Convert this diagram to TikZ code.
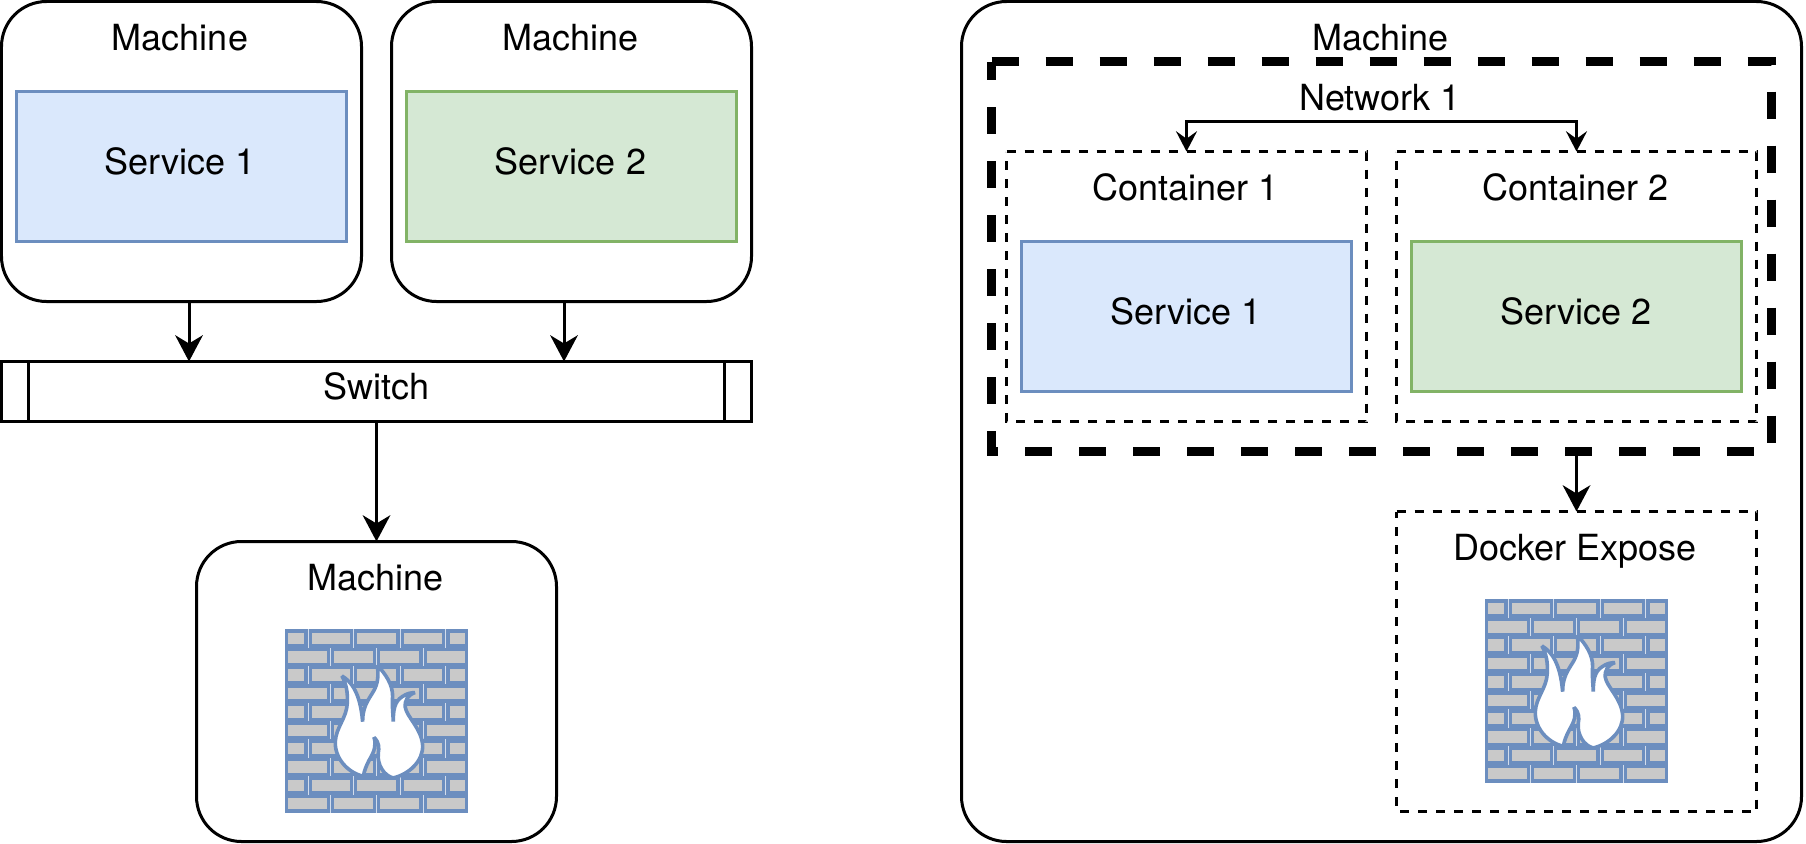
\documentclass[tikz,border=0pt]{standalone}
\usepackage{fontspec}
\setmainfont{TeX Gyre Heros}
\usetikzlibrary{arrows.meta}
\definecolor{svcblue}{HTML}{DAE8FC}
\definecolor{svcblueline}{HTML}{6C8EBF}
\definecolor{svcgreen}{HTML}{D5E8D4}
\definecolor{svcgreenline}{HTML}{82B366}
\definecolor{brickgray}{HTML}{C9C9C9}
\tikzset{
  shapebase/.style={rectangle,inner sep=0pt,outer sep=0pt,line width=2pt},
  machine/.style={shapebase,draw=black,rounded corners=30pt,minimum width=240pt,minimum height=200pt},
  bigmachine/.style={shapebase,draw=black,rounded corners=30pt,minimum width=560pt,minimum height=560pt},
  svcone/.style={shapebase,draw=svcblueline,fill=svcblue,minimum width=220pt,minimum height=100pt},
  svctwo/.style={shapebase,draw=svcgreenline,fill=svcgreen,minimum width=220pt,minimum height=100pt},
  switchbox/.style={shapebase,draw=black,minimum width=500pt,minimum height=40pt},
  regionbox/.style={shapebase,minimum width=240pt},
  dashline/.style={line width=2pt,dash pattern=on 6pt off 6pt},
  netline/.style={line width=6pt,dash pattern=on 18pt off 18pt},
  label/.style={inner sep=0pt,outer sep=0pt,anchor=base,font=\fontsize{24pt}{28pt}\selectfont},
  arr/.style={line width=2pt,-{Stealth[length=17.5pt,width=18.4pt,inset=5.5pt]}},
  arrsmall/.style={line width=2pt,{Stealth[length=13.5pt,width=14pt,inset=5pt]}-{Stealth[length=13.5pt,width=14pt,inset=5pt]}},
  firewall/.pic={
    \fill[svcblueline] (0,0) rectangle (122.4,122.4);
    \foreach \r in {0,2,4,6,8}{
      \foreach \a/\b in {15.65/15.65,45.95/46,76.85/76.85,107.35/107.35}{
        \fill[white!70!svcblueline] (\a-0.25,{\r*12.24}) rectangle (\b+0.25,{(\r+1)*12.24});
      }
      \foreach \a/\b in {0/15.4,15.9/45.8,46.2/76.6,77.1/107.1,107.6/122.4}{
        \fill[brickgray] ({\a+2.3},{\r*12.24+2.3}) rectangle ({\b-2.3},{(\r+1)*12.24-2.3});
      }
    }
    \foreach \r in {1,3,5,7,9}{
      \foreach \a/\b in {30.5/30.5,61.3/61.3,92.2/92.2}{
        \fill[white!70!svcblueline] (\a-0.25,{\r*12.24}) rectangle (\b+0.25,{(\r+1)*12.24});
      }
      \foreach \a/\b in {0/30.3,30.7/61.1,61.5/92,92.4/122.4}{
        \fill[brickgray] ({\a+2.3},{\r*12.24+2.3}) rectangle ({\b-2.3},{(\r+1)*12.24-2.3});
      }
    }
    \begin{scope}[shift={(23.5,13.8)},x=0.2222pt,y=-0.2222pt]
      \filldraw[fill=white,draw=svcblueline,line width=2.4pt,line join=miter,miter limit=3]
        (172,46) .. controls (197,72) and (219,105) .. (218,140)
        .. controls (216,165) and (219,190) .. (220,215)
        .. controls (220,185) and (222,155) .. (247,140)
        .. controls (260,131) and (272,128) .. (285,128)
        .. controls (264,135) and (254,150) .. (256,172)
        .. controls (260,200) and (304,235) .. (308,285)
        .. controls (311,333) and (267,373) .. (220,384)
        .. controls (193,378) and (171,345) .. (175,310)
        .. controls (177,295) and (180,280) .. (162,262)
        .. controls (170,285) and (163,305) .. (148,330)
        .. controls (140,345) and (133,362) .. (130,379)
        .. controls (83,368) and (44,325) .. (46,275)
        .. controls (48,232) and (80,205) .. (82,160)
        .. controls (84,125) and (78,100) .. (66,78)
        .. controls (95,95) and (121,130) .. (128,215)
        .. controls (128,170) and (145,150) .. (160,125)
        .. controls (175,100) and (176,75) .. (172,46) -- cycle;
    \end{scope}
  }
}
\begin{document}
\begin{tikzpicture}[x=1pt,y=-1pt]
\useasboundingbox[fill=white] (-1,-1) rectangle (1203,561);
% left side
\node[machine] (m1) at (120,100) {};
\node[machine] (m2) at (380,100) {};
\node[label] (m1t) at (119,32.8) {Machine};
\node[label] (m2t) at (379.3,32.8) {Machine};
\node[svcone] (s1) at (120,110) {};
\node[svctwo] (s2) at (380,110) {};
\node[label] (s1t) at (119.3,115.5) {Service 1};
\node[label] (s2t) at (379.3,115.5) {Service 2};
\node[switchbox] (sw) at (250,260) {};
\coordinate (barl) at (18,0);
\coordinate (barr) at (482,0);
\draw[line width=2pt] (barl |- sw.north) -- (barl |- sw.south);
\draw[line width=2pt] (barr |- sw.north) -- (barr |- sw.south);
\node[label] (swt) at (250,265.3) {Switch};
\node[machine] (m3) at (250,460) {};
\node[label] (m3t) at (249.3,392.8) {Machine};
\pic at (188.8,418.5) {firewall};
\coordinate (ax1) at (125,0);
\coordinate (ax2) at (375,0);
\draw[arr] (ax1 |- m1.south) -- (ax1 |- sw.north);
\draw[arr] (ax2 |- m2.south) -- (ax2 |- sw.north);
\draw[arr] (sw.south) -- (m3.north);
% right side
\node[bigmachine] (m4) at (920,280) {};
\node[label] (m4t) at (919.5,32.8) {Machine};
\node[shapebase,minimum width=520pt,minimum height=260pt] (net) at (920,170) {};
\draw[netline] (net.north west) -- (net.north east) -- (net.south east) -- (net.south west) -- cycle;
\node[label] (nett) at (919,72.8) {Network 1};
\node[regionbox,minimum height=180pt] (c1) at (790,190) {};
\node[regionbox,minimum height=180pt] (c2) at (1050,190) {};
\draw[dashline] (c1.north west) -- (c1.north east) -- (c1.south east) -- (c1.south west) -- cycle;
\draw[dashline] (c2.north west) -- (c2.north east) -- (c2.south east) -- (c2.south west) -- cycle;
\node[label] (c1t) at (789.3,132.8) {Container 1};
\node[label] (c2t) at (1049.3,132.8) {Container 2};
\node[svcone] (s3) at (790,210) {};
\node[svctwo] (s4) at (1050,210) {};
\node[label] (s3t) at (789.5,215.5) {Service 1};
\node[label] (s4t) at (1049.5,215.5) {Service 2};
\coordinate (ny) at (0,80);
\draw[arrsmall] (c1.north) -- (c1.north |- ny) -- (c2.north |- ny) -- (c2.north);
\node[regionbox,minimum height=200pt] (d1) at (1050,440) {};
\draw[dashline] (d1.north west) -- (d1.north east) -- (d1.south east) -- (d1.south west) -- cycle;
\node[label] (d1t) at (1049,372.5) {Docker Expose};
\pic at (988.8,398.5) {firewall};
\draw[arr] (d1.north |- net.south) -- (d1.north);
\end{tikzpicture}
\end{document}
